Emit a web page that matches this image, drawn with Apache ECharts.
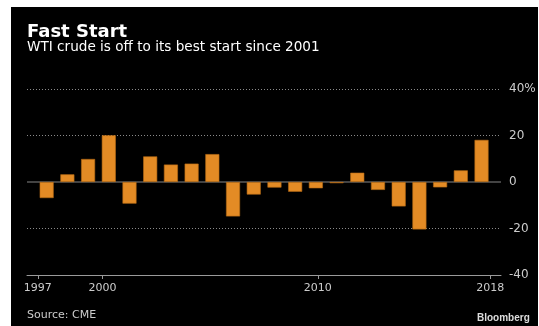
<!DOCTYPE html>
<html><head><meta charset="utf-8">
<script src="https://cdn.jsdelivr.net/npm/echarts@6/dist/echarts.min.js"></script>
<style>html,body{margin:0;padding:0;background:#fff;}#c{width:539px;height:326px;}</style>
</head><body><div id="c"></div>
<script>
const years = [1997,1998,1999,2000,2001,2002,2003,2004,2005,2006,2007,2008,2009,2010,2011,2012,2013,2014,2015,2016,2017,2018];
const values = [-6.9,3.3,9.9,20.1,-9.3,11.0,7.5,7.9,12.0,-14.8,-5.4,-2.4,-4.2,-2.7,-0.5,4.0,-3.4,-10.5,-20.4,-2.3,5.0,18.1];
const yTicks = [-40,-20,0,20,40];
const labelYears = ['1997','2000','2010','2018'];

const chart = echarts.init(document.getElementById('c'), null, {renderer:'canvas'});
const font = 'DejaVu Sans';
chart.setOption({
  backgroundColor: 'transparent',
  animation: false,
  graphic: [{type:'rect', left: 11, top: 7, shape:{width:527, height:319}, style:{fill:'#000'}, z:-10}],
  title: [
    {text:'Fast Start', left: 27, top: 23, padding:0, textStyle:{color:'#fff', fontSize:18, fontWeight:'bold', fontFamily:font}},
    {text:'WTI crude is off to its best start since 2001', left: 27, top: 40, padding:0, textStyle:{color:'#fff', fontSize:13.6, fontWeight:'normal', fontFamily:font}},
    {text:'Source: CME', left: 27, top: 310, padding:0, textStyle:{color:'#ccc', fontSize:11, fontWeight:'normal', fontFamily:font}},
    {text:'Bloomberg', left: 477, top: 313, padding:0, textStyle:{color:'#ddd', fontSize:10, fontWeight:'bold', fontFamily:'Liberation Sans'}}
  ],
  grid: {left: 27, right: 38, top: 89, bottom: 51},
  xAxis: [
    {type:'value', min: 1996.05, max: 2018.94, show:false},
    {type:'category', data: years.map(String), boundaryGap:true, position:'bottom',
     axisLine:{show:true, onZero:false, lineStyle:{color:'#9a9a9a', width:1}},
     axisTick:{show:true, alignWithLabel:true, length:4, lineStyle:{color:'#9a9a9a'},
       interval:(i,v)=>labelYears.indexOf(v)>=0},
     axisLabel:{color:'#ccc', fontSize:11, fontFamily:font, margin:8,
       interval:(i,v)=>labelYears.indexOf(v)>=0},
     splitLine:{show:false}}
  ],
  yAxis: {type:'value', position:'right', min: yTicks[0], max: yTicks[yTicks.length-1], interval: 20,
    axisLine:{show:false}, axisTick:{show:false},
    axisLabel:{color:'#ccc', fontSize:12, fontFamily:font, margin:8, align:'left', formatter:v=> v===40 ? '40%' : String(v)},
    splitLine:{show:true, lineStyle:{color:['transparent','#8a8a8a','transparent','#8a8a8a','#8a8a8a'], type:[1,2], width:1}}
  },
  series: [{
    type:'bar', xAxisIndex:0, barWidth:14,
    data: years.map((y,i)=>[y, values[i]]),
    itemStyle:{color:'#E38B25', borderColor:'#B56A14', borderWidth:0.6},
    markLine:{silent:true, symbol:'none', label:{show:false}, lineStyle:{color:'#5a5a5a', type:'solid', width:1.5}, data:[{yAxis:0}], z:1},
    z:3
  }]
});
</script></body></html>
